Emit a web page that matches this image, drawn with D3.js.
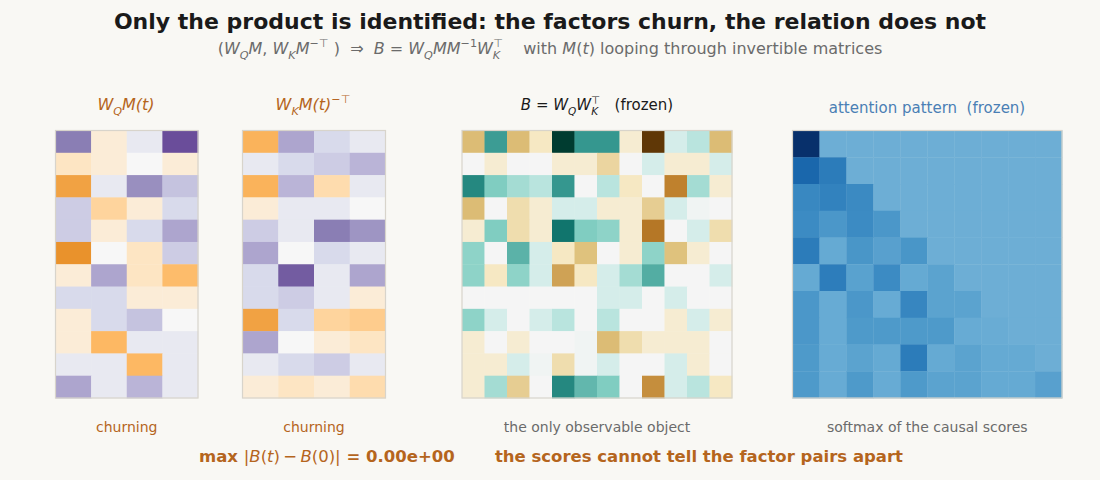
<!DOCTYPE html>
<html>
<head>
<meta charset="utf-8">
<script src="https://cdn.jsdelivr.net/npm/d3@7"></script>
<style>
  body { margin: 0; background: #f9f8f4; }
  svg text { font-family: "DejaVu Sans", sans-serif; white-space: pre; }
</style>
</head>
<body>
<svg id="chart" width="1100" height="480"></svg>
<script>
// W_Q M(t) : 12 x 4, PuOr (orange < 0 < purple), domain [-1, 1]
const wqm = [
  [ 0.56, -0.10,  0.10,  0.70],
  [-0.16, -0.10,  0.00, -0.10],
  [-0.48,  0.10,  0.50,  0.30],
  [ 0.26, -0.26, -0.10,  0.20],
  [ 0.26, -0.10,  0.20,  0.42],
  [-0.54,  0.00, -0.16,  0.26],
  [-0.10,  0.42, -0.16, -0.38],
  [ 0.20,  0.20, -0.10, -0.10],
  [-0.10,  0.20,  0.30,  0.00],
  [-0.10, -0.40,  0.10,  0.10],
  [ 0.10,  0.10, -0.40,  0.10],
  [ 0.42,  0.10,  0.36,  0.10]
];
// W_K M(t)^-T : 12 x 4
const wkm = [
  [-0.42,  0.42,  0.20,  0.10],
  [ 0.10,  0.20,  0.26,  0.36],
  [-0.42,  0.36, -0.22,  0.10],
  [-0.10,  0.10,  0.10,  0.00],
  [ 0.26,  0.10,  0.56,  0.48],
  [ 0.42,  0.00,  0.20,  0.10],
  [ 0.20,  0.66,  0.10,  0.42],
  [ 0.20,  0.26,  0.10, -0.10],
  [-0.48,  0.20, -0.26, -0.30],
  [ 0.42,  0.00, -0.10, -0.16],
  [ 0.10,  0.20,  0.26,  0.10],
  [-0.10, -0.16, -0.10, -0.22]
];
// B = W_Q W_K^T : 12 x 12, BrBG
const bMat = [
  [-0.42, 0.58, -0.42, -0.20, 1.00, 0.60, 0.60, -0.14, -0.96, 0.14, 0.24, -0.42],
  [ 0.00, -0.14, 0.00, 0.00, -0.14, -0.14, -0.30, 0.00, 0.14, -0.14, -0.14, 0.14],
  [ 0.66, 0.40, 0.30, 0.24, 0.60, 0.00, 0.24, -0.20, 0.00, -0.60, 0.30, -0.14],
  [-0.42, 0.00, -0.26, -0.14, 0.14, 0.14, -0.14, -0.14, -0.34, 0.14, 0.02, 0.00],
  [-0.14, 0.40, -0.26, -0.14, 0.74, 0.40, 0.36, -0.14, -0.64, 0.00, 0.14, -0.26],
  [ 0.36, 0.00, 0.50, 0.14, -0.20, -0.40, 0.00, -0.14, 0.36, -0.40, -0.14, 0.00],
  [ 0.36, -0.20, 0.36, 0.14, -0.50, -0.20, 0.14, 0.30, 0.52, 0.00, 0.00, 0.14],
  [ 0.00, 0.00, 0.00, 0.00, 0.00, 0.00, 0.14, 0.14, 0.00, 0.14, 0.00, 0.00],
  [ 0.36, 0.14, 0.00, 0.14, 0.24, 0.00, 0.24, 0.00, 0.00, -0.14, 0.14, -0.14],
  [-0.14, 0.00, -0.14, 0.00, 0.00, 0.02, -0.42, -0.26, -0.14, -0.14, -0.14, 0.00],
  [-0.14, -0.14, 0.14, 0.02, -0.26, 0.02, 0.14, 0.00, 0.00, 0.14, -0.14, 0.00],
  [-0.14, 0.30, -0.34, 0.00, 0.66, 0.48, 0.40, 0.00, -0.56, 0.14, 0.24, -0.20]
];
// causal softmax : 10 x 10, masked entries are 0, Blues on [-1, 1]
const attn = [
  [1.00, 0, 0, 0, 0, 0, 0, 0, 0, 0],
  [0.58, 0.42, 0, 0, 0, 0, 0, 0, 0, 0],
  [0.32, 0.37, 0.31, 0, 0, 0, 0, 0, 0, 0],
  [0.30, 0.20, 0.30, 0.20, 0, 0, 0, 0, 0, 0],
  [0.42, 0.04, 0.21, 0.12, 0.21, 0, 0, 0, 0, 0],
  [0.04, 0.41, 0.11, 0.30, 0.04, 0.10, 0, 0, 0, 0],
  [0.20, 0.03, 0.20, 0.03, 0.34, 0.10, 0.10, 0, 0, 0],
  [0.20, 0.03, 0.18, 0.18, 0.18, 0.18, 0.03, 0.02, 0, 0],
  [0.18, 0.03, 0.10, 0.04, 0.42, 0.04, 0.10, 0.04, 0.04, 0],
  [0.18, 0.03, 0.18, 0.03, 0.18, 0.10, 0.10, 0.04, 0.04, 0.12]
];

const bottomLabels = ['churning', 'churning', 'the only observable object', 'softmax of the causal scores'];
const maxDiff = 0;

const orange = '#b5651d';
const grey = '#6b6b6b';
const svg = d3.select('#chart');

// helper: text with italic / sub / sup pieces (poor man's mathtext)
function rich(sel, parts, size) {
  let off = 0;
  parts.forEach(p => {
    const target = p.sh === 'sub' ? size * 0.32 : p.sh === 'sup' ? -size * 0.42 : 0;
    sel.append('tspan')
      .attr('dy', target - off)
      .attr('dx', p.dx || null)
      .attr('font-style', p.it ? 'italic' : null)
      .attr('font-weight', p.w || null)
      .attr('font-size', p.sh ? size * 0.7 : null)
      .text(p.t);
    off = target;
  });
}

// linear ramp through the 11-colour scheme (like a listed colormap)
const ramp = scheme => d3.piecewise(d3.interpolateRgb, scheme);
const puOr = ramp(d3.schemePuOr[11].slice().reverse());
const brBG = ramp(d3.schemeBrBG[11]);

function heat(data, x0, x1, y0, y1, interp) {
  const nr = data.length, nc = data[0].length;
  const xs = d3.scaleBand().domain(d3.range(nc)).range([x0, x1]);
  const ys = d3.scaleBand().domain(d3.range(nr)).range([y0, y1]);
  const color = d3.scaleSequential(interp).domain([-1, 1]);
  const cells = data.flatMap((row, r) => row.map((v, c) => ({r, c, v})));
  const g = svg.append('g');
  g.selectAll('rect')
    .data(cells)
    .join('rect')
    .attr('x', d => xs(d.c))
    .attr('y', d => ys(d.r))
    .attr('width', xs.bandwidth() + 0.4)
    .attr('height', ys.bandwidth() + 0.4)
    .attr('fill', d => color(d.v));
  g.append('rect')
    .attr('x', x0).attr('y', y0)
    .attr('width', x1 - x0).attr('height', y1 - y0)
    .attr('fill', 'none')
    .attr('stroke', '#d8d4cb')
    .attr('stroke-width', 1.2);
}

const gridTop = 130.5, gridBot = 398;
const panels = [
  {data: wqm, x0: 55.5, x1: 198, interp: puOr},
  {data: wkm, x0: 242.5, x1: 385.5, interp: puOr},
  {data: bMat, x0: 462, x1: 732, interp: brBG},
  {data: attn, x0: 792.5, x1: 1062, interp: d3.interpolateBlues}
];
panels.forEach(p => heat(p.data, p.x0, p.x1, gridTop, gridBot, p.interp));

// title + subtitle
svg.append('text')
  .attr('x', 550).attr('y', 29)
  .attr('text-anchor', 'middle')
  .attr('font-size', 22).attr('font-weight', 'bold')
  .attr('fill', '#1a1a1a')
  .text('Only the product is identified: the factors churn, the relation does not');

const sub = svg.append('text')
  .attr('x', 550).attr('y', 54)
  .attr('text-anchor', 'middle')
  .attr('font-size', 16)
  .attr('fill', grey);
rich(sub, [
  {t: '('}, {t: 'W', it: 1}, {t: 'Q', it: 1, sh: 'sub'}, {t: 'M', it: 1}, {t: ', '},
  {t: 'W', it: 1}, {t: 'K', it: 1, sh: 'sub'}, {t: 'M', it: 1}, {t: '\u2212\u22a4', sh: 'sup'},
  {t: ' )  \u21d2  '}, {t: 'B', it: 1}, {t: ' = '}, {t: 'W', it: 1}, {t: 'Q', it: 1, sh: 'sub'},
  {t: 'MM', it: 1}, {t: '\u22121', sh: 'sup'}, {t: 'W', it: 1}, {t: 'K', it: 1, sh: 'sub'},
  {t: '\u22a4', sh: 'sup', dx: -7}, {t: '    with '}, {t: 'M', it: 1}, {t: '('}, {t: 't', it: 1},
  {t: ') looping through invertible matrices'}
], 16);

// panel titles
const t1 = svg.append('text').attr('x', 126).attr('y', 110)
  .attr('text-anchor', 'middle').attr('font-size', 16).attr('fill', orange);
rich(t1, [{t: 'W', it: 1}, {t: 'Q', it: 1, sh: 'sub'}, {t: 'M', it: 1}, {t: '(', it: 1}, {t: 't', it: 1}, {t: ')', it: 1}], 16);

const t2 = svg.append('text').attr('x', 313).attr('y', 110)
  .attr('text-anchor', 'middle').attr('font-size', 16).attr('fill', orange);
rich(t2, [{t: 'W', it: 1}, {t: 'K', it: 1, sh: 'sub'}, {t: 'M', it: 1}, {t: '(', it: 1}, {t: 't', it: 1}, {t: ')', it: 1}, {t: '\u2212\u22a4', sh: 'sup'}], 16);

const t3 = svg.append('text').attr('x', 597).attr('y', 110)
  .attr('text-anchor', 'middle').attr('font-size', 15).attr('fill', '#1a1a1a');
rich(t3, [{t: 'B', it: 1}, {t: ' = '}, {t: 'W', it: 1}, {t: 'Q', it: 1, sh: 'sub'}, {t: 'W', it: 1},
  {t: 'K', it: 1, sh: 'sub'}, {t: '\u22a4', sh: 'sup', dx: -7}, {t: '   (frozen)'}], 15);

svg.append('text').attr('x', 927).attr('y', 113)
  .attr('text-anchor', 'middle').attr('font-size', 15).attr('fill', '#4a7fb5')
  .text('attention pattern  (frozen)');

// captions under the panels
svg.selectAll('text.cap')
  .data(bottomLabels)
  .join('text')
  .attr('class', 'cap')
  .attr('x', (d, i) => (panels[i].x0 + panels[i].x1) / 2)
  .attr('y', 432)
  .attr('text-anchor', 'middle')
  .attr('font-size', 14)
  .attr('fill', (d, i) => i < 2 ? orange : grey)
  .text(d => d);

// bottom line
const foot = svg.append('text').attr('x', 551).attr('y', 462)
  .attr('text-anchor', 'middle').attr('font-size', 16.5).attr('fill', orange)
  .attr('font-weight', 'bold');
rich(foot, [
  {t: 'max '}, {t: '|', w: 'normal'}, {t: 'B', it: 1, w: 'normal'}, {t: '(', w: 'normal'}, {t: 't', it: 1, w: 'normal'},
  {t: ')\u2009\u2212\u2009', w: 'normal'}, {t: 'B', it: 1, w: 'normal'}, {t: '(0)|', w: 'normal'},
  {t: ' = ' + d3.format('.2e')(maxDiff).replace('e+0', 'e+00')},
  {t: '       the scores cannot tell the factor pairs apart'}
], 16.5);
</script>
</body>
</html>
